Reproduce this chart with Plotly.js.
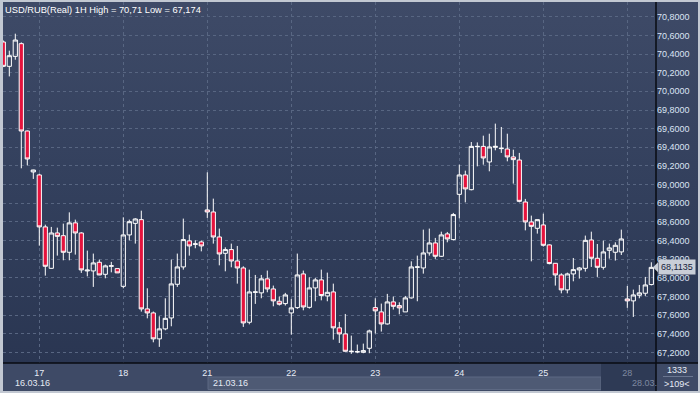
<!DOCTYPE html>
<html>
<head>
<meta charset="utf-8">
<script src="https://cdn.plot.ly/plotly-3.0.1.min.js"></script>
<style>
html,body{margin:0;padding:0;background:#c2c8d2;}
#chart{width:700px;height:393px;}
</style>
</head>
<body>
<div id="chart"></div>
<script>
// Hourly USD/RUB candles, 16.03.16 (last 6 bars) .. 28.03.16 (first 5 bars)
const opens = [70.529,70.268,70.375,70.511,69.575,69.136,
  69.104,68.547,68.103,68.482,68.453,68.275,68.590,68.482,68.075,68.075,68.168,68.039,68.125,68.100,
  67.910,68.461,68.585,68.625,67.668,67.625,67.347,67.454,67.571,67.932,68.118,68.397,68.360,68.386,
  68.729,68.707,68.439,68.264,68.304,68.182,68.107,67.525,67.846,67.840,67.990,67.882,67.750,67.725,
  67.625,67.682,68.043,67.685,67.893,67.979,67.807,67.850,67.465,67.400,67.210,67.207,67.203,67.246,
  67.682,67.636,67.507,67.743,67.704,67.636,67.786,68.114,68.107,68.268,68.375,68.232,68.472,68.411,
  68.896,69.104,68.946,69.407,69.410,69.243,69.400,69.386,69.382,69.297,69.264,68.814,68.600,68.532,
  68.568,68.354,68.157,68.032,67.872,68.043,68.086,68.103,68.407,68.211,68.114,68.296,68.275,68.279,
  67.775,67.754,67.814,67.836,67.929];
const highs = [70.545,70.436,70.618,70.525,69.580,69.160,
  69.118,68.571,68.547,68.539,68.582,68.703,68.625,68.490,68.293,68.261,68.196,68.143,68.172,68.100,
  68.650,68.625,68.640,68.721,67.889,67.640,67.589,67.782,68.196,68.261,68.636,68.464,68.403,68.400,
  69.132,68.850,68.529,68.328,68.368,68.343,68.125,68.089,68.032,68.032,68.079,67.918,67.800,67.840,
  67.775,68.261,68.079,68.007,68.000,68.089,68.057,67.939,67.529,67.614,67.382,67.286,67.296,67.446,
  67.782,67.725,67.829,67.800,67.739,67.807,68.178,68.239,68.518,68.529,68.429,68.496,68.493,68.697,
  69.214,69.150,69.457,69.453,69.525,69.546,69.654,69.618,69.546,69.375,69.340,68.847,68.668,68.625,
  68.689,68.360,68.160,68.050,68.057,68.214,68.118,68.454,68.496,68.364,68.400,68.368,68.382,68.518,
  67.914,67.875,67.925,68.011,68.168];
const lows = [70.260,70.160,70.339,69.175,69.207,69.061,
  68.346,68.025,68.100,68.239,68.189,68.189,68.250,68.054,68.017,67.904,68.030,67.996,68.060,68.054,
  67.889,68.403,68.368,67.639,67.567,67.310,67.261,67.439,67.482,67.904,68.089,68.239,68.318,68.285,
  68.643,68.368,68.135,68.071,68.114,67.939,67.475,67.503,67.722,67.782,67.846,67.696,67.704,67.704,
  67.393,67.668,67.653,67.671,67.750,67.760,67.750,67.339,67.303,67.210,67.186,67.193,67.193,67.193,
  67.404,67.425,67.500,67.661,67.610,67.636,67.779,67.750,68.046,68.239,68.204,68.225,68.382,68.403,
  68.639,68.810,68.939,69.196,69.214,69.143,69.368,69.340,69.250,69.011,68.810,68.510,68.178,68.475,
  68.336,68.146,67.918,67.835,67.835,67.964,67.993,68.068,68.118,68.011,68.089,68.207,68.186,68.246,
  67.679,67.582,67.782,67.807,67.920];
const closes = [70.268,70.382,70.550,69.575,69.275,69.157,
  68.547,68.125,68.482,68.446,68.275,68.590,68.482,68.086,68.084,68.161,68.032,68.129,68.130,68.054,
  68.461,68.603,68.632,67.668,67.625,67.347,67.454,67.567,67.936,68.118,68.411,68.343,68.365,68.343,
  68.707,68.439,68.257,68.304,68.182,68.107,67.518,67.850,67.850,67.990,67.882,67.754,67.718,67.818,
  67.679,68.032,67.689,67.893,67.979,67.811,67.846,67.465,67.400,67.214,67.214,67.210,67.221,67.432,
  67.647,67.507,67.743,67.696,67.679,67.786,68.118,68.118,68.268,68.375,68.232,68.461,68.418,68.679,
  69.104,68.954,69.410,69.410,69.286,69.404,69.410,69.390,69.297,69.268,68.821,68.600,68.553,68.625,
  68.350,68.154,68.032,67.872,68.043,68.089,68.107,68.403,68.211,68.114,68.279,68.322,68.350,68.418,
  67.754,67.818,67.840,67.925,68.1135];

const dayTickIdx  = [6, 20, 34, 48, 62, 76, 90, 104];
const dayTickText = ['17','18','21','22','23','24','25','28'];
const priceTicks  = [67.2,67.4,67.6,67.8,68.0,68.2,68.4,68.6,68.8,69.0,69.2,69.4,69.6,69.8,70.0,70.2,70.4,70.6,70.8];
const weekLabels  = ['16.03.16','21.03.16','28.03.'];
const titleText   = 'USD/RUB(Real) 1H High = 70,71 Low = 67,174';
const barCountText = ['1333','>109<'];

const xIdx = opens.map((_, i) => i);
const yRange = [67.0883, 70.9576];
const FONT = 'Liberation Sans, Arial, sans-serif';
const lastClose = closes[closes.length - 1];

// pixel helpers for decorations (plot area: x 3..656, y 2..363)
const PL = 3, PR = 656, PT = 2, PB = 363;
const px = v => (v - PL) / (PR - PL);
const py = v => (PB - v) / (PB - PT);

const grad = "<svg xmlns='http://www.w3.org/2000/svg' width='100' height='100' preserveAspectRatio='none'>" +
  "<defs><linearGradient id='g' x1='0' y1='0' x2='0' y2='1'>" +
  "<stop offset='0' stop-color='#3e4a67'/><stop offset='0.5' stop-color='#33405d'/><stop offset='1' stop-color='#2a3652'/>" +
  "</linearGradient></defs><rect width='100' height='100' fill='url(#g)'/></svg>";
const gradURI = 'data:image/svg+xml;charset=utf-8,' + encodeURIComponent(grad);

const trace = {
  type: 'candlestick',
  x: xIdx, open: opens, high: highs, low: lows, close: closes,
  increasing: {line: {color: '#ffffff', width: 1}, fillcolor: 'rgba(0,0,0,0)'},
  decreasing: {line: {color: '#ffffff', width: 1}, fillcolor: '#e5133d'},
  whiskerwidth: 0,
  hoverinfo: 'skip',
  showlegend: false
};

const lpY = (lastClose - yRange[0]) / (yRange[1] - yRange[0]);

const layout = {
  width: 700, height: 393,
  margin: {l: PL, r: 700 - PR, t: PT, b: 393 - PB, pad: 0},
  paper_bgcolor: '#c2c8d2',
  plot_bgcolor: 'rgba(0,0,0,0)',
  separators: ',.',
  boxgap: 0.3, boxgroupgap: 0,
  font: {family: FONT, size: 9, color: '#e6ebf5'},
  title: {
    text: titleText,
    font: {family: FONT, size: 9.3, color: '#ffffff'},
    xref: 'container', yref: 'container',
    x: 5 / 700, xanchor: 'left',
    y: 1 - 10 / 393, yanchor: 'middle'
  },
  xaxis: {
    range: [-0.05, 108.78],
    tickmode: 'array', tickvals: dayTickIdx,
    ticktext: dayTickText.map((t, i) => i === dayTickText.length - 1 ? "<span style='color:#7e89a0'>" + t + "</span>" : t),
    showgrid: true, gridcolor: '#586682', griddash: '3px,3px', gridwidth: 1,
    zeroline: false, showline: false, ticks: '',
    ticklabelstandoff: 3,
    tickfont: {family: FONT, size: 9, color: '#e8edf6'},
    rangeslider: {visible: false},
    fixedrange: true
  },
  yaxis: {
    side: 'right',
    range: yRange,
    tickmode: 'array', tickvals: priceTicks, tickformat: '.4f',
    showgrid: true, gridcolor: '#586682', griddash: '3px,3px', gridwidth: 1,
    zeroline: false, showline: false, ticks: '',
    tickfont: {family: FONT, size: 9, color: '#dbe4f4'},
    fixedrange: true
  },
  images: [{
    source: gradURI, xref: 'paper', yref: 'paper',
    x: 0, y: 1, sizex: px(698), sizey: 1,
    xanchor: 'left', yanchor: 'top', sizing: 'stretch', layer: 'below'
  }],
  shapes: [
    {type: 'rect', xref: 'paper', yref: 'paper', x0: 0, x1: px(698), y0: py(391), y1: 0,
     fillcolor: '#3e4a66', line: {width: 0}, layer: 'below'},
    {type: 'rect', xref: 'paper', yref: 'paper', x0: px(208), x1: px(601), y0: py(389.5), y1: py(377),
     fillcolor: '#4e5a74', line: {color: '#5d6983', width: 1}, layer: 'below'},
    {type: 'rect', xref: 'paper', yref: 'paper', x0: px(601), x1: 1, y0: py(391), y1: 0,
     fillcolor: '#2e3a55', line: {width: 0}, layer: 'below'},
    {type: 'line', xref: 'paper', yref: 'paper', x0: px(663), x1: px(693), y0: py(376.5), y1: py(376.5),
     line: {color: '#6b7791', width: 1}},
    {type: 'line', xref: 'paper', yref: 'paper', x0: 1, x1: 1, y0: py(391), y1: 1,
     line: {color: '#080b12', width: 1.5}},
    {type: 'line', xref: 'paper', yref: 'paper', x0: 0, x1: px(698), y0: 0, y1: 0,
     line: {color: '#080b12', width: 1.5}},
    {type: 'path', xref: 'paper', yref: 'paper',
     path: 'M ' + px(653) + ' ' + lpY + ' L ' + px(658) + ' ' + (lpY + 5 / 361) + ' L ' + px(658) + ' ' + (lpY - 5 / 361) + ' Z',
     fillcolor: '#c9ced7', line: {width: 0}}
  ],
  annotations: [
    {text: weekLabels[0], xref: 'paper', yref: 'paper', x: px(13), y: py(382.5), xanchor: 'left', yanchor: 'middle',
     showarrow: false, font: {family: FONT, size: 9, color: '#e6ebf5'}},
    {text: weekLabels[1], xref: 'paper', yref: 'paper', x: px(211), y: py(382.5), xanchor: 'left', yanchor: 'middle',
     showarrow: false, font: {family: FONT, size: 9, color: '#e6ebf5'}},
    {text: weekLabels[2], xref: 'paper', yref: 'paper', x: px(630), y: py(382.5), xanchor: 'left', yanchor: 'middle',
     showarrow: false, font: {family: FONT, size: 9, color: '#7e89a0'}},
    {text: barCountText[0], xref: 'paper', yref: 'paper', x: px(677), y: py(370), xanchor: 'center', yanchor: 'middle',
     showarrow: false, font: {family: FONT, size: 9, color: '#e6ebf5'}},
    {text: barCountText[1], xref: 'paper', yref: 'paper', x: px(677), y: py(383.5), xanchor: 'center', yanchor: 'middle',
     showarrow: false, font: {family: FONT, size: 9, color: '#e6ebf5'}},
    {text: lastClose.toFixed(4).replace('.', ','), xref: 'paper', yref: 'y', x: px(657.5), y: lastClose,
     xanchor: 'left', yanchor: 'middle', showarrow: false, bgcolor: '#c9ced7', borderpad: 2,
     font: {family: FONT, size: 9, color: '#17223b'}}
  ]
};

Plotly.newPlot('chart', [trace], layout, {staticPlot: true, displayModeBar: false});
</script>
</body>
</html>
